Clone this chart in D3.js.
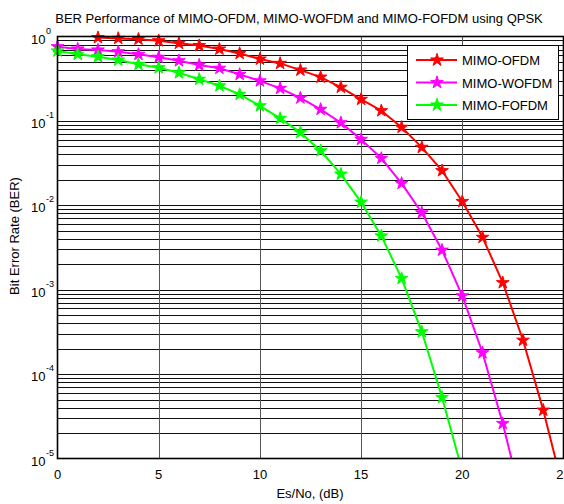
<!DOCTYPE html>
<html><head><meta charset="utf-8">
<script src="https://cdn.jsdelivr.net/npm/d3@7"></script>
<style>
body{margin:0;background:#fff}
svg{display:block}
text{font-family:"Liberation Sans",Arial,Helvetica,sans-serif;fill:#000}
</style>
</head><body>
<svg id="chart" width="564" height="504"></svg>
<script>
// Es/No axis values (dB) for each scheme
const snrOfdm = [2,3,4,5,6,7,8,9,10,11,12,13,14,15,16,17,18,19,20,21,22,23,24,25];
const snrWofdm = [0,1,2,3,4,5,6,7,8,9,10,11,12,13,14,15,16,17,18,19,20,21,22,23];
const snrFofdm = [0,1,2,3,4,5,6,7,8,9,10,11,12,13,14,15,16,17,18,19,20];

// Simulated bit error rates
const berOfdm = [0.97,0.95,0.93,0.89,0.83,0.78,0.71,0.63,0.54,0.48,0.40,0.33,0.25,0.18,0.132,0.084,0.0486,0.0257,0.0111,0.00417,0.00121,2.52e-4,3.74e-5,4.2e-6];
const berWofdm = [0.757,0.711,0.692,0.660,0.615,0.567,0.516,0.459,0.420,0.356,0.298,0.243,0.187,0.137,0.0951,0.0604,0.0360,0.0182,0.00815,0.00294,8.46e-4,1.79e-4,2.6e-5,2.8e-6];
const berFofdm = [0.673,0.615,0.576,0.526,0.468,0.427,0.372,0.311,0.261,0.206,0.151,0.107,0.0731,0.0443,0.0234,0.0109,0.00434,0.00136,3.17e-4,5.29e-5,7.1e-6];

const seriesNames = ["MIMO-OFDM","MIMO-WOFDM","MIMO-FOFDM"];
const seriesColors = ["#ff0000","#ff00ff","#00ff00"];

const xTicks = [0,5,10,15,20,25];
const yExponents = [0,-1,-2,-3,-4,-5];

const titleText = "BER Performance of MIMO-OFDM, MIMO-WOFDM and MIMO-FOFDM using QPSK";
const xLabel = "Es/No, (dB)";
const yLabel = "Bit Error Rate (BER)";

const series = [
  {name: seriesNames[0], color: seriesColors[0], pts: snrOfdm.map((s,i)=>({x:s,y:berOfdm[i]}))},
  {name: seriesNames[1], color: seriesColors[1], pts: snrWofdm.map((s,i)=>({x:s,y:berWofdm[i]}))},
  {name: seriesNames[2], color: seriesColors[2], pts: snrFofdm.map((s,i)=>({x:s,y:berFofdm[i]}))}
];

const svg = d3.select("#chart");
const L = 57.5, R = 563.5, T = 36.5, B = 458.5;

const x = d3.scaleLinear().domain([0,25]).range([L,R]);
const y = d3.scaleLog().domain([1e-5,1]).range([B,T]);

svg.append("defs").append("clipPath").attr("id","plotClip")
  .append("rect").attr("x",L).attr("y",T).attr("width",R-L).attr("height",B-T);

// Horizontal grid: decades plus 2..9 minor steps
const hLines = [];
for (let e = -5; e < 0; e++) {
  for (let m = 1; m <= 9; m++) {
    const v = m * Math.pow(10, e);
    if (v > 1e-5) hLines.push(v);
  }
}
const grid = svg.append("g");
grid.selectAll("line.h").data(hLines).join("line")
  .attr("x1",L).attr("x2",R)
  .attr("y1",d=>Math.round(y(d))+0.5).attr("y2",d=>Math.round(y(d))+0.5)
  .attr("stroke","#111").attr("stroke-width",1);
grid.selectAll("line.v").data(xTicks.filter(t=>t>0&&t<25)).join("line")
  .attr("x1",d=>Math.round(x(d))+0.5).attr("x2",d=>Math.round(x(d))+0.5)
  .attr("y1",T).attr("y2",B)
  .attr("stroke","#555").attr("stroke-width",1);

// Bottom tick marks
svg.append("g").attr("transform",`translate(0,${B})`)
  .call(d3.axisBottom(x).tickValues(xTicks).tickSize(0).tickFormat(""))
  .call(g=>g.select(".domain").remove());

// Curves
const line = d3.line().x(d=>x(d.x)).y(d=>y(d.y));
const curves = svg.append("g").attr("clip-path","url(#plotClip)");
series.forEach(s=>{
  curves.append("path").datum(s.pts)
    .attr("d",line).attr("fill","none")
    .attr("stroke",s.color).attr("stroke-width",2).attr("stroke-linejoin","round");
});
const star = d3.symbol().type(d3.symbolStar).size(50);
series.forEach(s=>{
  svg.append("g").selectAll("path").data(s.pts.filter(p=>p.y>=1e-5)).join("path")
    .attr("transform",d=>`translate(${x(d.x)},${y(d.y)})`)
    .attr("d",star).attr("fill",s.color).attr("stroke",s.color).attr("stroke-width",1);
});

// Axes box
svg.append("rect").attr("x",L).attr("y",T).attr("width",R-L).attr("height",B-T)
  .attr("fill","none").attr("stroke","#000").attr("stroke-width",1.6);

// X tick labels
svg.append("g").selectAll("text").data(xTicks).join("text")
  .attr("x",d=>x(d)).attr("y",479).attr("text-anchor","middle")
  .attr("font-size",13).text(d=>d);

// Y tick labels as 10^n
const yl = svg.append("g").selectAll("g").data(yExponents).join("g");
yl.append("text").attr("x",45.5).attr("y",d=>y(Math.pow(10,d))+7)
  .attr("text-anchor","end").attr("font-size",13).text("10");
yl.append("text").attr("x",46).attr("y",d=>y(Math.pow(10,d))-3)
  .attr("font-size",9).text(d=>d);

// Title and axis labels
svg.append("text").attr("x",299).attr("y",23).attr("text-anchor","middle")
  .attr("font-size",13).text(titleText);
svg.append("text").attr("x",310).attr("y",498).attr("text-anchor","middle")
  .attr("font-size",13).text(xLabel);
svg.append("text").attr("transform","translate(19,236) rotate(-90)")
  .attr("text-anchor","middle").attr("font-size",13).text(yLabel);

// Legend
const lg = svg.append("g");
lg.append("rect").attr("x",407.5).attr("y",45.5).attr("width",151).attr("height",74)
  .attr("fill","#fff").attr("stroke","#000").attr("stroke-width",1);
series.forEach((s,i)=>{
  const ly = 60 + i*22.5;
  lg.append("line").attr("x1",416).attr("x2",457).attr("y1",ly).attr("y2",ly)
    .attr("stroke",s.color).attr("stroke-width",2);
  lg.append("path").attr("transform",`translate(437,${ly})`).attr("d",star)
    .attr("fill",s.color).attr("stroke",s.color).attr("stroke-width",1);
  lg.append("text").attr("x",462).attr("y",ly+5).attr("font-size",13).text(s.name);
});
</script>
</body></html>
